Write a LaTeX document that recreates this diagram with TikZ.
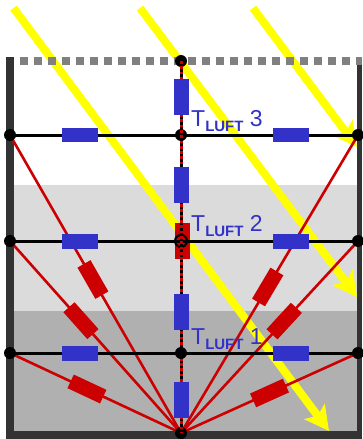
\documentclass[tikz,border=0pt]{standalone}
\usepackage{fontspec}
\setmainfont{Liberation Sans}
\usetikzlibrary{arrows.meta}
\definecolor{wallgray}{HTML}{333333}
\definecolor{boxblue}{HTML}{3232C8}
\definecolor{boxred}{HTML}{CC0000}
\definecolor{sunyellow}{HTML}{FFFF00}
\begin{document}
\begin{tikzpicture}[x=1pt,y=-1pt]
\tikzstyle{knot}=[circle,fill=black,minimum size=12pt,inner sep=0pt]
\tikzstyle{hblue}=[fill=boxblue,rectangle,minimum width=36pt,minimum height=14.5pt,inner sep=0pt]
\tikzstyle{vblue}=[fill=boxblue,rectangle,minimum width=15pt,minimum height=36pt,inner sep=0pt]
\tikzstyle{rbox}=[fill=boxred,rectangle,minimum width=36pt,minimum height=15pt,inner sep=0pt,sloped]
\tikzstyle{ray}=[draw=sunyellow,line width=8pt,-{Stealth[length=24pt,width=25pt,inset=5pt]}]
\tikzstyle{wire}=[draw=black,line width=3pt]
\tikzstyle{rwire}=[draw=boxred,line width=2.6pt]
\tikzstyle{lbl}=[anchor=base west,inner sep=0pt,text=boxblue,font=\fontsize{23pt}{23pt}\selectfont]
\useasboundingbox (0,0) rectangle (362,439);
% air layers
\fill[gray!28] (14,185) rectangle (357,311);
\fill[gray!62] (14,311) rectangle (357,431);
% sun
\coordinate (s1) at (13.5,8);
\coordinate (s2) at (140,8);
\coordinate (s3) at (253,8);
\coordinate (e1) at (329,431);
\coordinate (e2) at (357,297);
\coordinate (e3) at (357,147);
\draw[ray] (s1) -- (e1);
\draw[ray] (s2) -- (e2);
\draw[ray] (s3) -- (e3);
% walls
\fill[wallgray] (6,57) rectangle (14,439);
\fill[wallgray] (357,65) rectangle (362,439);
\fill[wallgray] (6,431) rectangle (362,439);
\coordinate (d1) at (20,61);
\coordinate (d2) at (362,61);
\draw[gray,line width=8pt,dash pattern=on 8pt off 6pt] (d1) -- (d2);
% coordinates for the wires
\coordinate (bot) at (181,433);
\coordinate (top) at (181,61);
\coordinate (l3) at (10,135);
\coordinate (m3) at (181,135);
\coordinate (r3) at (358,135);
\coordinate (l2) at (10,241);
\coordinate (m2) at (181,241);
\coordinate (r2) at (358,241);
\coordinate (l1) at (10,353);
\coordinate (m1) at (181,353);
\coordinate (r1) at (358,353);
% red wires
\draw[rwire] (bot) -- node[rbox,pos=.515] (rl3) {} (l3);
\draw[rwire] (bot) -- node[rbox,pos=.585] (rl2) {} (l2);
\draw[rwire] (bot) -- node[rbox,pos=.55] (rl1) {} (l1);
\draw[rwire] (bot) -- node[rbox,pos=.49] (rr3) {} (r3);
\draw[rwire] (bot) -- node[rbox,pos=.583] (rr2) {} (r2);
\draw[rwire] (bot) -- node[rbox,pos=.50] (rr1) {} (r1);
% centre red box and knots
\node[fill=boxred,minimum width=15pt,minimum height=36pt,inner sep=0pt] (cr) at (182.5,241) {};
\node[knot] (kt) at (top) {};
\node[knot] (kb) at (bot) {};
\node[knot] (kl3) at (l3) {};
\node[knot] (km3) at (m3) {};
\node[knot] (kr3) at (r3) {};
\node[knot] (kl2) at (l2) {};
\node[circle,fill=boxred,draw=black,line width=2pt,minimum size=12pt,inner sep=0pt] (km2) at (m2) {};
\node[knot] (kr2) at (r2) {};
\node[knot] (kl1) at (l1) {};
\node[knot] (kr1) at (r1) {};
% black wires
\draw[wire] (l3) -- (m3);
\draw[wire] (m3) -- (r3);
\draw[wire] (l2) -- (m2);
\draw[wire] (m2) -- (r2);
\draw[wire] (l1) -- (m1);
\draw[wire] (m1) -- (r1);
% centre line
\draw[draw=black,line width=3pt] (top) -- (bot);
\draw[draw=boxred,line width=3pt,dash pattern=on 2.7pt off 2.6pt] (top) -- (bot);
\node[knot] (km1) at (m1) {};
% blue boxes
\node[hblue] (bl3) at (80,135) {};
\node[hblue] (bl2) at (80,241.5) {};
\node[hblue] (bl1) at (80,353.5) {};
\node[hblue] (br3) at (291,135) {};
\node[hblue] (br2) at (291,241.5) {};
\node[hblue] (br1) at (291,353.5) {};
\node[vblue] (v1) at (181.5,97) {};
\node[vblue] (v2) at (181.5,185) {};
\node[vblue] (v3) at (181.5,312) {};
\node[vblue] (v4) at (181.5,400) {};
% labels
\node[lbl] (t3) at (191,126) {T\raisebox{-5.5pt}{\fontsize{15pt}{15pt}\selectfont\bfseries LUFT} 3};
\node[lbl] (t2) at (191,231) {T\raisebox{-5.5pt}{\fontsize{15pt}{15pt}\selectfont\bfseries LUFT} 2};
\node[lbl] (t1) at (191,344) {T\raisebox{-5.5pt}{\fontsize{15pt}{15pt}\selectfont\bfseries LUFT} 1};
\end{tikzpicture}
\end{document}
